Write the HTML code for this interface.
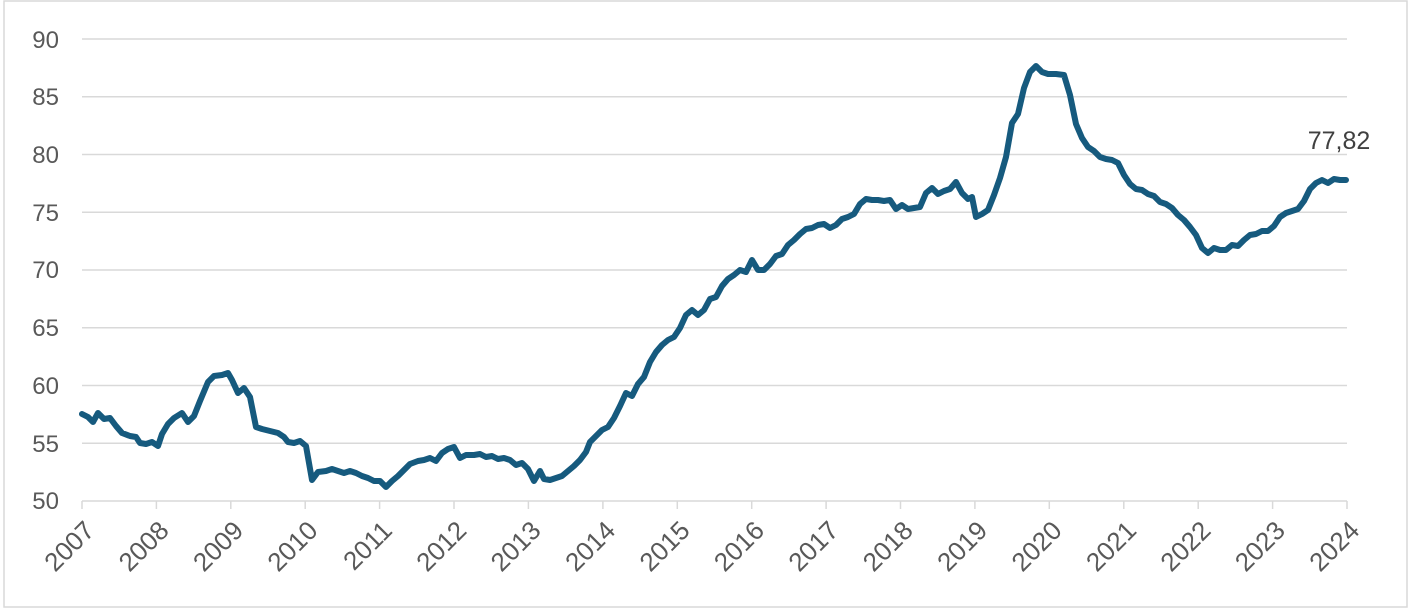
<!DOCTYPE html>
<html><head><style>body{margin:0;background:#fff}svg{display:block}</style></head><body>
<svg width="1411" height="614" xmlns="http://www.w3.org/2000/svg" font-family="Liberation Sans, sans-serif">
<rect x="4" y="1" width="1403" height="606" fill="#fff" stroke="#d9d9d9" stroke-width="1.5"/>
<g stroke="#d9d9d9" stroke-width="1.5">
<line x1="82" x2="1347" y1="39" y2="39"/><line x1="82" x2="1347" y1="96.75" y2="96.75"/>
<line x1="82" x2="1347" y1="154.5" y2="154.5"/><line x1="82" x2="1347" y1="212.25" y2="212.25"/>
<line x1="82" x2="1347" y1="270" y2="270"/><line x1="82" x2="1347" y1="327.75" y2="327.75"/>
<line x1="82" x2="1347" y1="385.5" y2="385.5"/><line x1="82" x2="1347" y1="443.25" y2="443.25"/>
<line x1="82" x2="1347" y1="501" y2="501"/>
<line x1="82" x2="82" y1="501" y2="509"/><line x1="156.4" x2="156.4" y1="501" y2="509"/><line x1="230.8" x2="230.8" y1="501" y2="509"/><line x1="305.2" x2="305.2" y1="501" y2="509"/><line x1="379.6" x2="379.6" y1="501" y2="509"/><line x1="454" x2="454" y1="501" y2="509"/><line x1="528.4" x2="528.4" y1="501" y2="509"/><line x1="602.9" x2="602.9" y1="501" y2="509"/><line x1="677.3" x2="677.3" y1="501" y2="509"/><line x1="751.7" x2="751.7" y1="501" y2="509"/><line x1="826.1" x2="826.1" y1="501" y2="509"/><line x1="900.5" x2="900.5" y1="501" y2="509"/><line x1="974.9" x2="974.9" y1="501" y2="509"/><line x1="1049.3" x2="1049.3" y1="501" y2="509"/><line x1="1123.8" x2="1123.8" y1="501" y2="509"/><line x1="1198.2" x2="1198.2" y1="501" y2="509"/><line x1="1272.6" x2="1272.6" y1="501" y2="509"/><line x1="1347" x2="1347" y1="501" y2="509"/>
</g>
<g fill="#595959" font-size="24" text-anchor="end">
<text x="59" y="48">90</text><text x="59" y="105">85</text><text x="59" y="163">80</text><text x="59" y="221">75</text><text x="59" y="278">70</text><text x="59" y="336">65</text><text x="59" y="394">60</text><text x="59" y="452">55</text><text x="59" y="509">50</text>
</g>
<g fill="#595959" font-size="26" text-anchor="end">
<text transform="translate(96,532) rotate(-45)">2007</text>
<text transform="translate(170.4,532) rotate(-45)">2008</text>
<text transform="translate(244.8,532) rotate(-45)">2009</text>
<text transform="translate(319.2,532) rotate(-45)">2010</text>
<text transform="translate(393.6,532) rotate(-45)">2011</text>
<text transform="translate(468,532) rotate(-45)">2012</text>
<text transform="translate(542.4,532) rotate(-45)">2013</text>
<text transform="translate(616.9,532) rotate(-45)">2014</text>
<text transform="translate(691.3,532) rotate(-45)">2015</text>
<text transform="translate(765.7,532) rotate(-45)">2016</text>
<text transform="translate(840.1,532) rotate(-45)">2017</text>
<text transform="translate(914.5,532) rotate(-45)">2018</text>
<text transform="translate(988.9,532) rotate(-45)">2019</text>
<text transform="translate(1063.3,532) rotate(-45)">2020</text>
<text transform="translate(1137.8,532) rotate(-45)">2021</text>
<text transform="translate(1212.2,532) rotate(-45)">2022</text>
<text transform="translate(1286.6,532) rotate(-45)">2023</text>
<text transform="translate(1361,532) rotate(-45)">2024</text>
</g>
<polyline fill="none" stroke="#165a7e" stroke-width="6" stroke-linejoin="round" stroke-linecap="round" points="82,414 88,417 93,422 98,413 104,419 110,418 116,426 122,433 130,436 136,437 140,443 146,444 152,442 158,446 162,434 168,424 174,418 182,413 188,422 194,416 200,401 208,382 214,376 222,375 228,373 232,380 238,393 244,388 250,397 256,427 262,429 270,431 278,433 284,437 288,442 294,443 300,441 306,446 312,480 318,472 326,471 332,469 338,471 344,473 350,471 356,473 362,476 368,478 374,481 380,481 386,487 392,481 398,476 404,470 410,464 418,461 424,460 430,458 436,461 442,453 448,449 454,447 460,458 466,455 474,455 480,454 486,457 492,456 498,459 504,458 510,460 516,465 522,463 528,469 534,481 540,471 544,479 550,480 556,478 562,476 568,471 574,466 580,460 586,452 590,442 596,436 602,430 608,427 614,418 620,406 626,393 632,396 638,384 644,377 650,362 656,352 662,345 668,340 674,337 680,328 686,315 692,310 698,315 704,310 710,299 716,297 722,286 728,279 734,275 740,270 746,272 752,260 758,270 764,270 770,264 776,256 782,254 788,245 794,240 800,234 806,229 812,228 818,225 824,224 830,228 836,225 842,219 848,217 854,214 860,204 866,199 872,200 878,200 884,201 890,200 896,209 902,205 908,209 914,208 920,207 926,193 932,188 938,194 944,191 950,189 956,182 962,193 968,199 972,197 976,217 982,214 988,210 994,195 1000,178 1006,157 1012,123 1018,114 1024,88 1030,72 1036,66 1042,72 1048,74 1056,74 1064,75 1070,95 1076,124 1082,138 1088,147 1094,151 1100,157 1106,159 1112,160 1118,163 1124,175 1130,184 1136,189 1142,190 1148,194 1154,196 1160,202 1166,204 1172,208 1178,215 1184,220 1190,227 1196,235 1202,248 1208,253 1214,248 1220,250 1226,250 1232,245 1238,246 1244,240 1250,235 1256,234 1262,231 1268,231 1274,226 1280,217 1286,213 1292,211 1298,209 1304,201 1310,189 1316,183 1322,180 1328,183 1334,179 1340,180 1346,180"/>
<text x="1339" y="149" font-size="25" fill="#404040" text-anchor="middle">77,82</text>
</svg>
</body></html>
